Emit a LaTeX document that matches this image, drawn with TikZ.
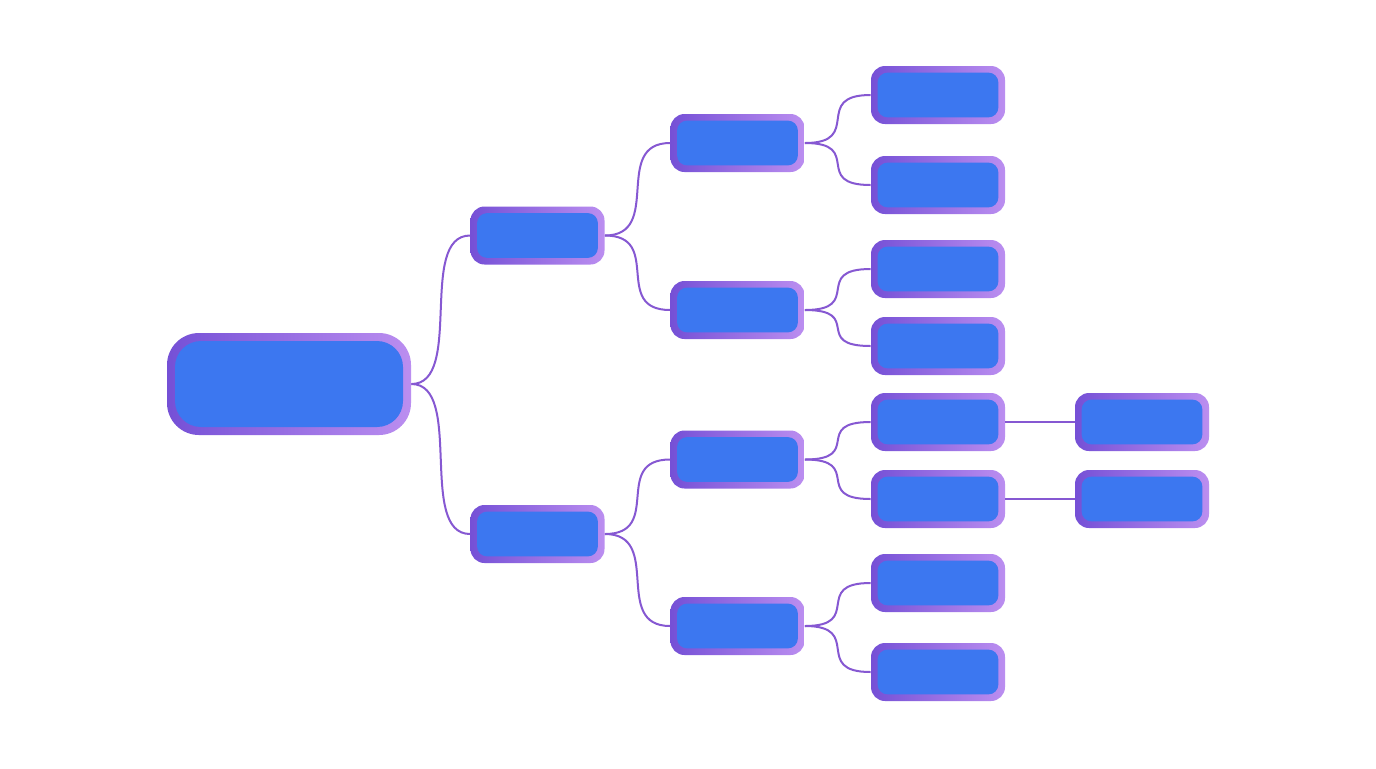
\documentclass[tikz,border=0pt]{standalone}
\usetikzlibrary{calc}
\definecolor{nodeblue}{HTML}{3C77F0}
\definecolor{bordL}{HTML}{7550D6}
\definecolor{bordR}{HTML}{BB8EF0}
\definecolor{linkc}{HTML}{8658D2}
\begin{document}
\begin{tikzpicture}[x=0.5pt,y=-0.5pt,
  box/.style={rounded corners=7pt, minimum width=67pt, minimum height=29pt, inner sep=0pt,
    left color=bordL, right color=bordR,
    path picture={\fill[nodeblue, rounded corners=5pt]
      ([shift={(3.3pt,3.3pt)}]path picture bounding box.south west) rectangle
      ([shift={(-3.3pt,-3.3pt)}]path picture bounding box.north east);}},
  rootbox/.style={rounded corners=16pt, minimum width=122pt, minimum height=51pt, inner sep=0pt,
    left color=bordL, right color=bordR,
    path picture={\fill[nodeblue, rounded corners=13pt]
      ([shift={(4pt,4pt)}]path picture bounding box.south west) rectangle
      ([shift={(-4pt,-4pt)}]path picture bounding box.north east);}},
  link/.style={draw=linkc, line width=1pt}
]
\useasboundingbox (0,0) rectangle (1376,768);
\fill[white] (0,0) rectangle (1376,768);

\node[rootbox] (root) at (289,384) {};
\node[box] (l1a) at (537.5,235.5) {};
\node[box] (l1b) at (537.5,534) {};
\node[box] (l2a) at (737.5,143) {};
\node[box] (l2b) at (737.5,310) {};
\node[box] (l2c) at (737.5,459.5) {};
\node[box] (l2d) at (737.5,626) {};
\node[box] (l3a) at (938,95) {};
\node[box] (l3b) at (938,185) {};
\node[box] (l3c) at (938,269) {};
\node[box] (l3d) at (938,346) {};
\node[box] (l3e) at (938,422) {};
\node[box] (l3f) at (938,499) {};
\node[box] (l3g) at (938,583) {};
\node[box] (l3h) at (938,672) {};
\node[box] (l4a) at (1142,422) {};
\node[box] (l4b) at (1142,499) {};

\foreach \a/\b in {root/l1a, root/l1b, l1a/l2a, l1a/l2b, l1b/l2c, l1b/l2d,
  l2a/l3a, l2a/l3b, l2b/l3c, l2b/l3d, l2c/l3e, l2c/l3f, l2d/l3g, l2d/l3h}{
  \draw[link] let \p1=(\a.east), \p2=(\b.west), \n1={0.9*(\x2-\x1)} in
    (\p1) .. controls ({\x1+\n1},\y1) and ({\x2-\n1},\y2) .. (\p2);
}
\draw[link] (l3e.east) -- (l4a.west);
\draw[link] (l3f.east) -- (l4b.west);
\end{tikzpicture}
\end{document}
